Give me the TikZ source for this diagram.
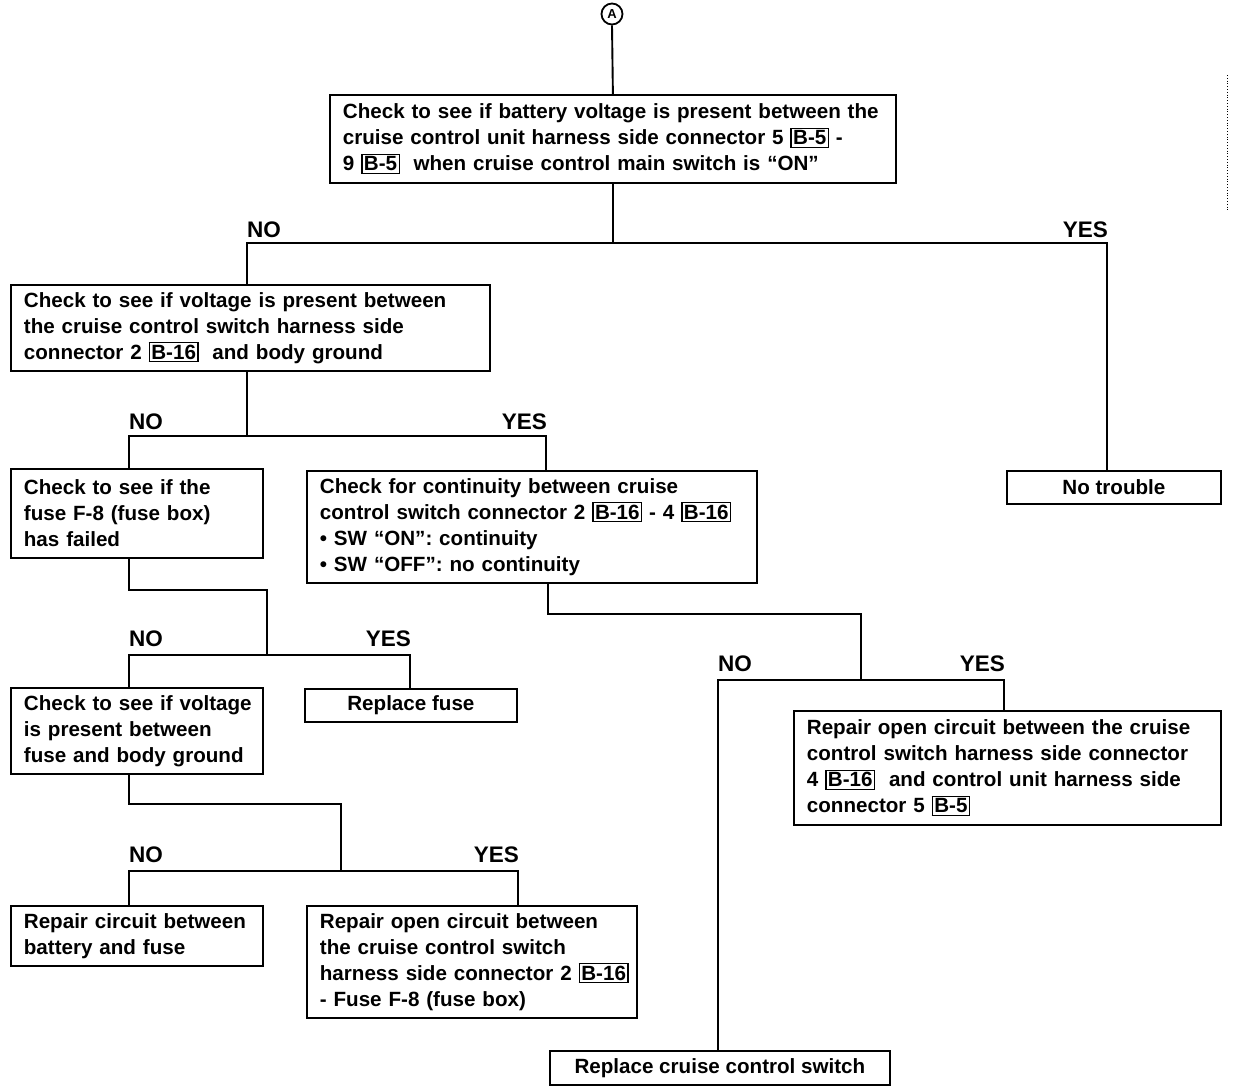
\documentclass[tikz,border=0pt]{standalone}
\usepackage{fontspec}
\setmainfont{Liberation Sans}
\newcommand\cb[1]{{\fboxsep=1.4pt\fboxrule=1.3pt\fbox{#1}}}
\newcommand\ml[1]{\mbox{#1}}
\tikzset{
  txt/.style={font=\bfseries\fontsize{20.6}{26}\selectfont},
  box/.style={txt, draw, line width=1.8pt, rectangle, anchor=north west, inner xsep=13pt, inner ysep=0pt, align=left},
  cbox/.style={txt, draw, line width=1.8pt, rectangle, anchor=north west, inner sep=0pt, align=center},
  conn/.style={line width=1.9pt},
  lbl/.style={font=\bfseries\fontsize{22.5}{26}\selectfont, inner sep=0pt}
}
\begin{document}
\begin{tikzpicture}[x=1pt,y=-1pt]
\useasboundingbox (0,0) rectangle (1248,1092);

% start marker
\node[draw, circle, line width=1.8pt, minimum size=21pt, inner sep=0pt, font=\bfseries\fontsize{13}{13}\selectfont] (A) at (612,14) {A};

% boxes
\node[box, text width=540pt, minimum height=88pt] (b1) at (329,94)
 {\ml{Check to see if battery voltage is present between the}\\
  \ml{cruise control unit harness side connector 5 \cb{B-5} -}\\
  \ml{9 \cb{B-5}\ \ when cruise control main switch is “ON”}};

\node[box, text width=453pt, minimum height=86pt] (b2) at (10,284)
 {\ml{Check to see if voltage is present between}\\
  \ml{the cruise control switch harness side}\\
  \ml{connector 2 \cb{B-16}\ \ and body ground}};

\node[box, text width=226pt, minimum height=89pt] (b3) at (10,468)
 {\ml{Check to see if the}\\
  \ml{fuse F-8 (fuse box)}\\
  \ml{has failed}};

\node[box, text width=424pt, minimum height=112pt] (b4) at (306,470)
 {\ml{Check for continuity between cruise}\\
  \ml{control switch connector 2 \cb{B-16} - 4 \cb{B-16}}\\
  \ml{• SW “ON”: continuity}\\
  \ml{• SW “OFF”: no continuity}};

\node[cbox, minimum width=214pt, minimum height=33pt] (nt) at (1006,470) {No trouble};

\node[box, text width=226pt, minimum height=86pt] (b5) at (10,687)
 {\ml{Check to see if voltage}\\
  \ml{is present between}\\
  \ml{fuse and body ground}};

\node[cbox, minimum width=212pt, minimum height=33pt] (rf) at (304,688) {Replace fuse};

\node[box, text width=226pt, minimum height=60pt] (b7) at (10,905)
 {\ml{Repair circuit between}\\
  \ml{battery and fuse}};

\node[box, text width=304pt, minimum height=112pt] (b8) at (306,905)
 {\ml{Repair open circuit between}\\
  \ml{the cruise control switch}\\
  \ml{harness side connector 2 \cb{B-16}}\\
  \ml{- Fuse F-8 (fuse box)}};

\node[box, text width=401pt, minimum height=114pt] (b9) at (793,710)
 {\ml{Repair open circuit between the cruise}\\
  \ml{control switch harness side connector}\\
  \ml{4 \cb{B-16}\ \ and control unit harness side}\\
  \ml{connector 5 \cb{B-5}}};

\node[cbox, minimum width=340pt, minimum height=34pt] (rc) at (549,1050) {Replace cruise control switch};

% junction coordinates
\coordinate (h1l) at (247,243);  \coordinate (h1r) at (1107,243);
\coordinate (h2l) at (129,436);  \coordinate (h2r) at (546,436);
\coordinate (k3)  at (267,590);
\coordinate (h3l) at (129,655);  \coordinate (h3r) at (410,655);
\coordinate (k4)  at (341,804);
\coordinate (h4l) at (129,871);  \coordinate (h4r) at (518,871);
\coordinate (k5a) at (548,614);  \coordinate (k5) at (861,614);
\coordinate (hbl) at (718,680);  \coordinate (hbr) at (1004,680);

% connectors
\draw[conn] (A.south) -- (b1.north);
\draw[conn] (b1.south) -- (b1.south |- h1l);
\draw[conn] (h1l |- b2.north) -- (h1l) -- (h1r) -- (h1r |- nt.north);

\draw[conn] (h1l |- b2.south) -- (h1l |- h2l);
\draw[conn] (h2l |- b3.north) -- (h2l) -- (h2r) -- (h2r |- b4.north);

\draw[conn] (h2l |- b3.south) -- (h2l |- k3) -- (k3) -- (k3 |- h3l);
\draw[conn] (h3l |- b5.north) -- (h3l) -- (h3r) -- (h3r |- rf.north);

\draw[conn] (h3l |- b5.south) -- (h3l |- k4) -- (k4) -- (k4 |- h4l);
\draw[conn] (h4l |- b7.north) -- (h4l) -- (h4r) -- (h4r |- b8.north);

\draw[conn] (k5a |- b4.south) -- (k5a) -- (k5) -- (k5 |- hbl);
\draw[conn] (hbl |- rc.north) -- (hbl) -- (hbr) -- (hbr |- b9.north);

% labels
\node[lbl, anchor=base west] (n1) at (247,237) {NO};
\node[lbl, anchor=base east] (y1) at (1108,237) {YES};
\node[lbl, anchor=base west] (n2) at (129,429) {NO};
\node[lbl, anchor=base east] (y2) at (547,429) {YES};
\node[lbl, anchor=base west] (n3) at (129,646) {NO};
\node[lbl, anchor=base east] (y3) at (411,646) {YES};
\node[lbl, anchor=base west] (n4) at (129,862) {NO};
\node[lbl, anchor=base east] (y4) at (519,862) {YES};
\node[lbl, anchor=base west] (nb) at (718,671) {NO};
\node[lbl, anchor=base east] (yb) at (1005,671) {YES};

% scan mark at right edge
\draw[line width=0.8pt, dotted] (1227,75) -- (1227,210);
\end{tikzpicture}
\end{document}
